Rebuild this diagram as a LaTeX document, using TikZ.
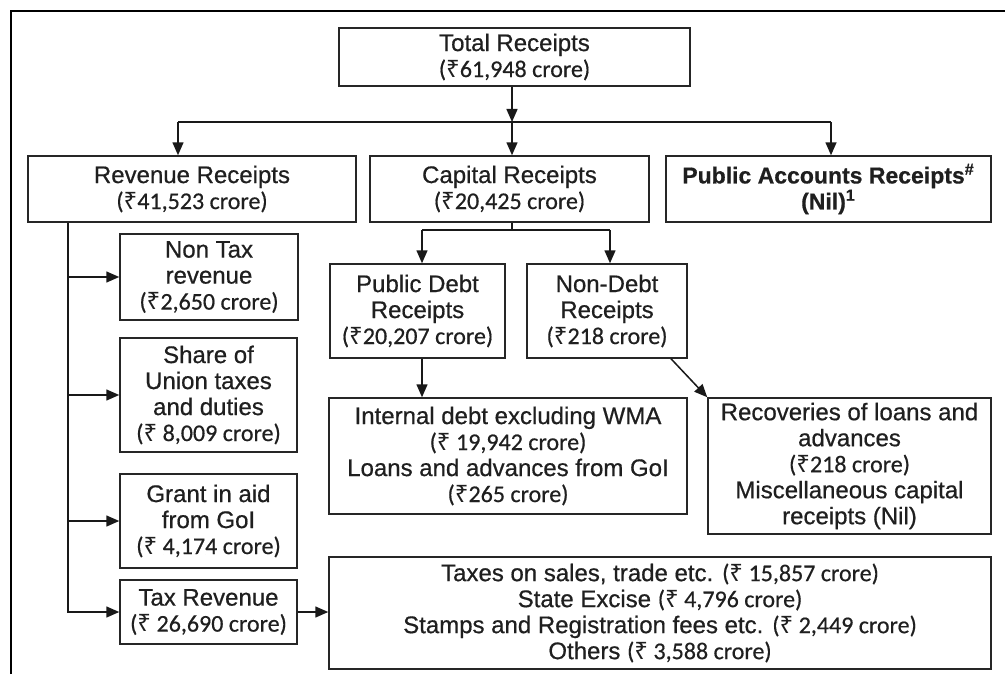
\documentclass[tikz,border=0pt]{standalone}
\usepackage{fontspec}
\setmainfont{Liberation Sans}[FakeBold=0.6]
\newfontfamily\regfont{Liberation Sans}[FakeBold=0.6]
\newfontfamily\amtfont{Carlito}[FakeBold=0.5]
\newfontfamily\rsymfont{Noto Sans}
\usetikzlibrary{arrows.meta}
\newcommand{\Rs}{{\rsymfont\bfseries ₹}}
\newcommand{\amt}[1]{{\amtfont #1}}
\tikzset{
  box/.style={draw=black!85, line width=0.75pt, inner sep=0pt, align=center,
    font=\fontsize{12}{13}\selectfont, text=black!88},
  arr/.style={line width=0.75pt, draw=black!90, -{Triangle[length=6.5pt,width=5.5pt]}},
  ln/.style={line width=0.75pt, draw=black!90},
  frame/.style={line width=1.1pt}
}
\begin{document}
\begin{tikzpicture}[x=0.5pt,y=-0.5pt]
\useasboundingbox (0,0) rectangle (1005,674);
\fill[white] (0,0) rectangle (1005,674);
\draw[frame] (11,674) -- (11,11) -- (1005,11);

\node[box, minimum width=175.5pt, minimum height=29pt] (tot) at (514.5,57)
  {Total Receipts\\ \amt{(\Rs61,948 crore)}};
\node[box, minimum width=164pt, minimum height=33pt] (rev) at (192,189)
  {Revenue Receipts\\ \amt{(\Rs41,523 crore)}};
\node[box, minimum width=139.5pt, minimum height=33pt] (cap) at (509.5,189)
  {Capital Receipts\\ \amt{(\Rs20,425 crore)}};
\node[box, minimum width=162.5pt, minimum height=33pt, font=\fontsize{11.5}{13}\selectfont\bfseries] (pub) at (828.5,189)
  {Public Accounts Receipts\textsuperscript{\#}\\ (Nil)\textsuperscript{1}};

\node[box, minimum width=89pt, minimum height=43pt] (nontax) at (209,277)
  {Non Tax\\ revenue\\ \amt{(\Rs2,650 crore)}};
\node[box, minimum width=88.5pt, minimum height=57pt] (share) at (208.5,395)
  {Share of\\ Union taxes\\ and duties\\ \amt{(\Rs\ 8,009 crore)}};
\node[box, minimum width=88.5pt, minimum height=47pt] (grant) at (208.5,521)
  {Grant in aid\\ from GoI\\ \amt{(\Rs\ 4,174 crore)}};
\node[box, minimum width=88.5pt, minimum height=32pt] (taxrev) at (208.5,612)
  {Tax Revenue\\ \amt{(\Rs\ 26,690 crore)}};

\node[box, minimum width=87.5pt, minimum height=47pt] (pdebt) at (417.5,311)
  {Public Debt\\ Receipts\\ \amt{(\Rs20,207 crore)}};
\node[box, minimum width=80pt, minimum height=47pt] (ndebt) at (607,311)
  {Non-Debt\\ Receipts\\ \amt{(\Rs218 crore)}};
\node[box, minimum width=179pt, minimum height=58pt] (internal) at (508,456)
  {Internal debt excluding WMA\\ \amt{(\Rs\ 19,942 crore)}\\ Loans and advances from GoI\\ \amt{(\Rs265 crore)}};
\node[box, minimum width=141.5pt, minimum height=68pt] (recov) at (849.5,466)
  {Recoveries of loans and\\ advances\\ \amt{(\Rs218 crore)}\\ Miscellaneous capital\\ receipts (Nil)};
\node[box, minimum width=331pt, minimum height=56pt] (taxes) at (660,613)
  {Taxes on sales, trade etc. \amt{(\Rs\ 15,857 crore)}\\
   State Excise \amt{(\Rs\ 4,796 crore)}\\
   Stamps and Registration fees etc. \amt{(\Rs\ 2,449 crore)}\\
   Others \amt{(\Rs\ 3,588 crore)}};

% top level connectors
\coordinate (jl) at (178,122);
\coordinate (jm) at (512,122);
\coordinate (jr) at (831,122);
\draw[arr] (tot.south -| jm) -- (jm);
\draw[ln] (jl) -- (jr);
\draw[arr] (jl) -- (jl |- rev.north);
\draw[arr] (jm) -- (jm |- cap.north);
\draw[arr] (jr) -- (jr |- pub.north);

% capital branch
\coordinate (kl) at (422,230);
\coordinate (km) at (512,230);
\coordinate (kr) at (610,230);
\draw[ln] (cap.south -| km) -- (km);
\draw[ln] (kl) -- (kr);
\draw[arr] (kl) -- (kl |- pdebt.north);
\draw[arr] (kr) -- (kr |- ndebt.north);
\draw[arr] (pdebt.south -| kl) -- (internal.north -| kl);
\coordinate (nd) at (671,0);
\draw[arr] (ndebt.south -| nd) -- (recov.north west);

% revenue spine
\coordinate (sp) at (68,0);
\coordinate (spend) at (68,613);
\draw[ln] (rev.south -| sp) -- (spend);
\draw[arr] (nontax.west -| sp) -- (nontax.west);
\draw[arr] (share.west -| sp) -- (share.west);
\draw[arr] (grant.west -| sp) -- (grant.west);
\draw[arr] (taxrev.west -| sp) -- (taxrev.west);
\draw[arr] (taxrev.east) -- (taxes.west |- taxrev.east);
\end{tikzpicture}
\end{document}
